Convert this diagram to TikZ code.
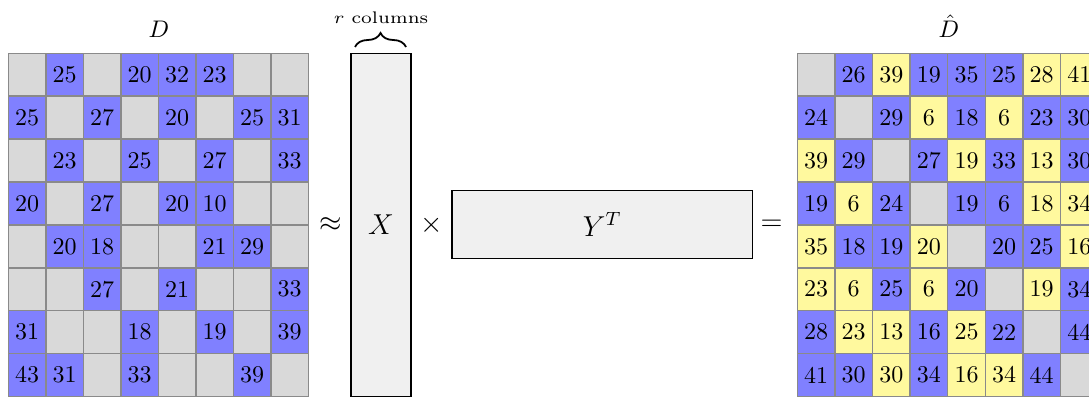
\documentclass[tikz,border=0pt]{standalone}
\usetikzlibrary{decorations.pathreplacing}
\definecolor{cb}{RGB}{128,128,255}
\definecolor{cg}{RGB}{217,217,217}
\definecolor{cy}{RGB}{255,249,158}
\definecolor{cellline}{RGB}{138,138,138}
\definecolor{boxfill}{RGB}{240,240,240}
\newcommand\cellnum[1]{\scalebox{2.4}{\normalsize #1}}
\newcommand\bigsym[1]{\scalebox{2.4}{\large #1}}
\newcommand\labtxt[1]{\scalebox{2.4}{\normalsize #1}}
\begin{document}
\begin{tikzpicture}[x=1pt,y=-1pt,
  cell/.style={draw=cellline,line width=1.5pt,minimum width=37.5pt,minimum height=42.9pt,
    inner sep=0pt,outer sep=0pt},
  hcell/.style={cell,minimum width=37.6pt},
  matbox/.style={draw=black,line width=1.2pt,fill=boxfill,inner sep=0pt},
  op/.style={inner sep=0pt},
  lab/.style={inner sep=0pt,anchor=base}]
\useasboundingbox (0,0) rectangle (1089,398);
% D
\foreach \rowlist [count=\i] in {
 {g/{},b/25,g/{},b/20,b/32,b/23,g/{},g/{}},
 {b/25,g/{},b/27,g/{},b/20,g/{},b/25,b/31},
 {g/{},b/23,g/{},b/25,g/{},b/27,g/{},b/33},
 {b/20,g/{},b/27,g/{},b/20,b/10,g/{},g/{}},
 {g/{},b/20,b/18,g/{},g/{},b/21,b/29,g/{}},
 {g/{},g/{},b/27,g/{},b/21,g/{},g/{},b/33},
 {b/31,g/{},g/{},b/18,g/{},b/19,g/{},b/39},
 {b/43,b/31,g/{},b/33,g/{},g/{},b/39,g/{}}}{
  \foreach \cc/\vv [count=\j] in \rowlist {
    \node[cell,fill=c\cc] (d-\i-\j) at ({8.3+(\j-0.5)*37.5},{53.3+(\i-0.5)*42.9}) {\cellnum{\vv}};
  }
}
% D hat
\foreach \rowlist [count=\i] in {
 {g/{},b/26,y/39,b/19,b/35,b/25,y/28,y/41},
 {b/24,g/{},b/29,y/6,b/18,y/6,b/23,b/30},
 {y/39,b/29,g/{},b/27,y/19,b/33,y/13,b/30},
 {b/19,y/6,b/24,g/{},b/19,b/6,y/18,y/34},
 {y/35,b/18,b/19,y/20,g/{},b/20,b/25,y/16},
 {y/23,y/6,b/25,y/6,b/20,g/{},y/19,b/34},
 {b/28,y/23,y/13,b/16,y/25,b/22,g/{},b/44},
 {b/41,b/30,y/30,b/34,y/16,y/34,b/44,g/{}}}{
  \foreach \cc/\vv [count=\j] in \rowlist {
    \node[hcell,fill=c\cc] (h-\i-\j) at ({797.3+(\j-0.5)*37.6},{53.3+(\i-0.5)*42.9}) {\cellnum{\vv}};
  }
}
\node[lab] (Dlab) at (159,37.5) {\labtxt{$D$}};
\node[lab] (Dhlab) at (949,37.5) {\labtxt{$\hat{D}$}};
% factors
\node[matbox,minimum width=60pt,minimum height=343.4pt] (X) at (381,225) {\bigsym{$X$}};
\node[matbox,minimum width=300.3pt,minimum height=68pt] (YT) at (602.2,224.3) {\bigsym{$Y^T$}};
\node[op] (approx) at (331,225) {\bigsym{$\approx$}};
\node[op] (times) at (431.7,225) {\bigsym{$\times$}};
\node[op] (equals) at (771.7,225) {\bigsym{$=$}};
% brace
\coordinate (bl) at (355,47);
\coordinate (br) at (406,47);
\draw[decorate,decoration={brace,amplitude=14pt},line width=1.8pt] (bl) -- (br);
\node[inner sep=0pt,anchor=base] (rcol) at (381,23.5) {\scalebox{2.7}[2.4]{\scriptsize $r$ columns}};
\end{tikzpicture}
\end{document}
